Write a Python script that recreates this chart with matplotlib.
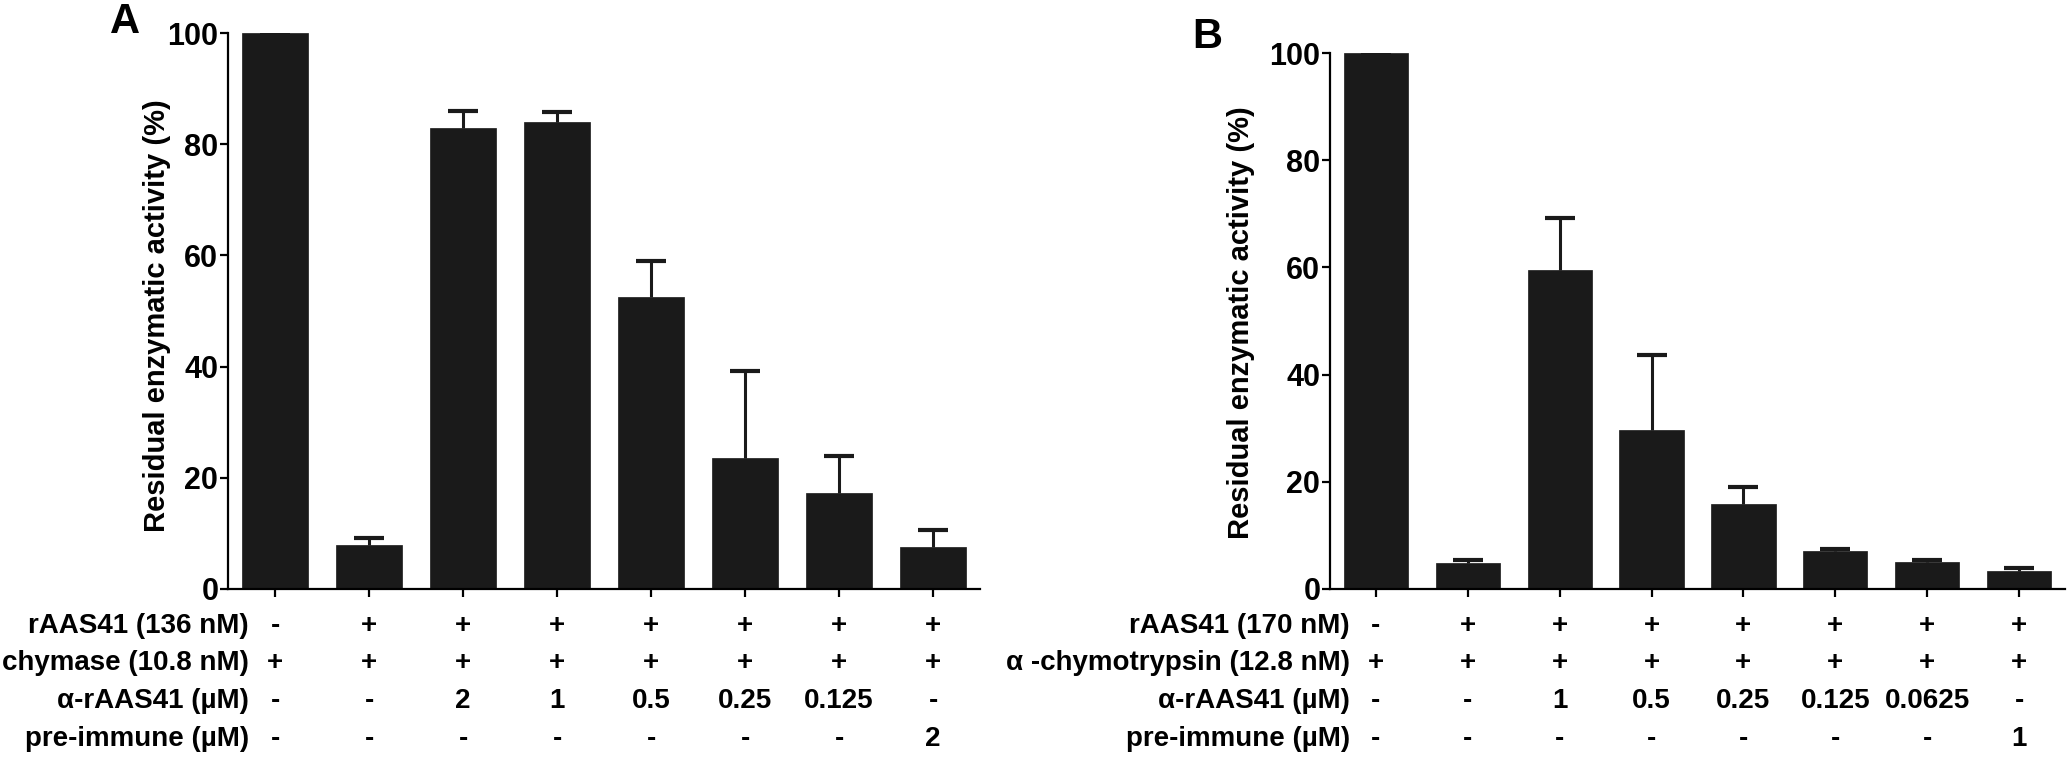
import matplotlib
matplotlib.use('Agg')
import matplotlib.pyplot as plt
from matplotlib.transforms import blended_transform_factory

plt.rcParams['font.family'] = ['Liberation Sans', 'DejaVu Sans']
plt.rcParams['font.weight'] = 'bold'

BAR_COLOUR = '#1a1a1a'

# Panel A: chymase
values_a = [100, 8.0, 83.0, 84.0, 52.5, 23.6, 17.2, 7.6]
errors_a = [0, 1.2, 3.0, 1.8, 6.5, 15.6, 6.8, 3.0]
row_labels_a = ['rAAS41 (136 nM)', 'chymase (10.8 nM)', 'α-rAAS41 (µM)', 'pre-immune (µM)']
rows_a = [
    ['-', '+', '+', '+', '+', '+', '+', '+'],
    ['+', '+', '+', '+', '+', '+', '+', '+'],
    ['-', '-', '2', '1', '0.5', '0.25', '0.125', '-'],
    ['-', '-', '-', '-', '-', '-', '-', '2'],
]

# Panel B: alpha-chymotrypsin
values_b = [100, 4.8, 59.5, 29.7, 15.9, 7.0, 5.0, 3.4]
errors_b = [0, 0.7, 9.7, 13.9, 3.2, 0.4, 0.4, 0.5]
row_labels_b = ['rAAS41 (170 nM)', 'α -chymotrypsin (12.8 nM)', 'α-rAAS41 (µM)', 'pre-immune (µM)']
rows_b = [
    ['-', '+', '+', '+', '+', '+', '+', '+'],
    ['+', '+', '+', '+', '+', '+', '+', '+'],
    ['-', '-', '1', '0.5', '0.25', '0.125', '0.0625', '-'],
    ['-', '-', '-', '-', '-', '-', '-', '1'],
]

W, H = 2070, 759
ROW_BASELINES = [633, 670, 708, 746]


def plot_panel(fig, ax, values, errors, row_labels, rows, label_right, ylabel_xy, letter_xy, letter):
    x = list(range(len(values)))
    ax.bar(x, values, width=0.7, color=BAR_COLOUR, edgecolor=BAR_COLOUR, linewidth=0.5, zorder=2)
    _, caps, _ = ax.errorbar(x, values, yerr=[[0] * len(errors), errors], fmt='none', ecolor=BAR_COLOUR,
                             elinewidth=2.2, capsize=11, capthick=3, zorder=3)
    # only the upper cap is drawn in the original
    caps[0].set_visible(False)

    ax.set_xlim(-0.5, len(values) - 0.5)
    ax.set_ylim(0, 100)
    ax.set_yticks([0, 20, 40, 60, 80, 100])
    ax.set_xticks(x)
    ax.set_xticklabels([])
    ax.tick_params(axis='both', length=6, width=1.6, labelsize=22, pad=1, direction='out')
    for side in ['top', 'right']:
        ax.spines[side].set_visible(False)
    for side in ['left', 'bottom']:
        ax.spines[side].set_linewidth(1.6)

    fig.text(ylabel_xy[0] / W, 1 - ylabel_xy[1] / H, 'Residual enzymatic activity (%)',
             rotation=90, ha='center', va='center', fontsize=21, fontweight='bold')
    fig.text(letter_xy[0] / W, 1 - letter_xy[1] / H, letter,
             ha='center', va='center', fontsize=30, fontweight='bold')

    # Condition table under the bars
    trans = blended_transform_factory(ax.transData, fig.transFigure)
    for label, row, base in zip(row_labels, rows, ROW_BASELINES):
        y = 1 - base / H
        fig.text(label_right / W, y, label, ha='right', va='baseline', fontsize=20, fontweight='bold')
        for xi, cell in zip(x, row):
            ax.text(xi, y, cell, transform=trans, ha='center', va='baseline',
                    fontsize=20, fontweight='bold', clip_on=False)


def main():
    fig = plt.figure(figsize=(W / 100, H / 100), dpi=100)
    ax_a = fig.add_axes([228 / W, 1 - 589 / H, 752 / W, 556 / H])
    ax_b = fig.add_axes([1330 / W, 1 - 589 / H, 735 / W, 536 / H])

    plot_panel(fig, ax_a, values_a, errors_a, row_labels_a, rows_a, 249, (157, 316), (125, 22), 'A')
    plot_panel(fig, ax_b, values_b, errors_b, row_labels_b, rows_b, 1350, (1241, 323), (1207, 37), 'B')

    fig.savefig('out.png', dpi=100)


if __name__ == '__main__':
    main()
